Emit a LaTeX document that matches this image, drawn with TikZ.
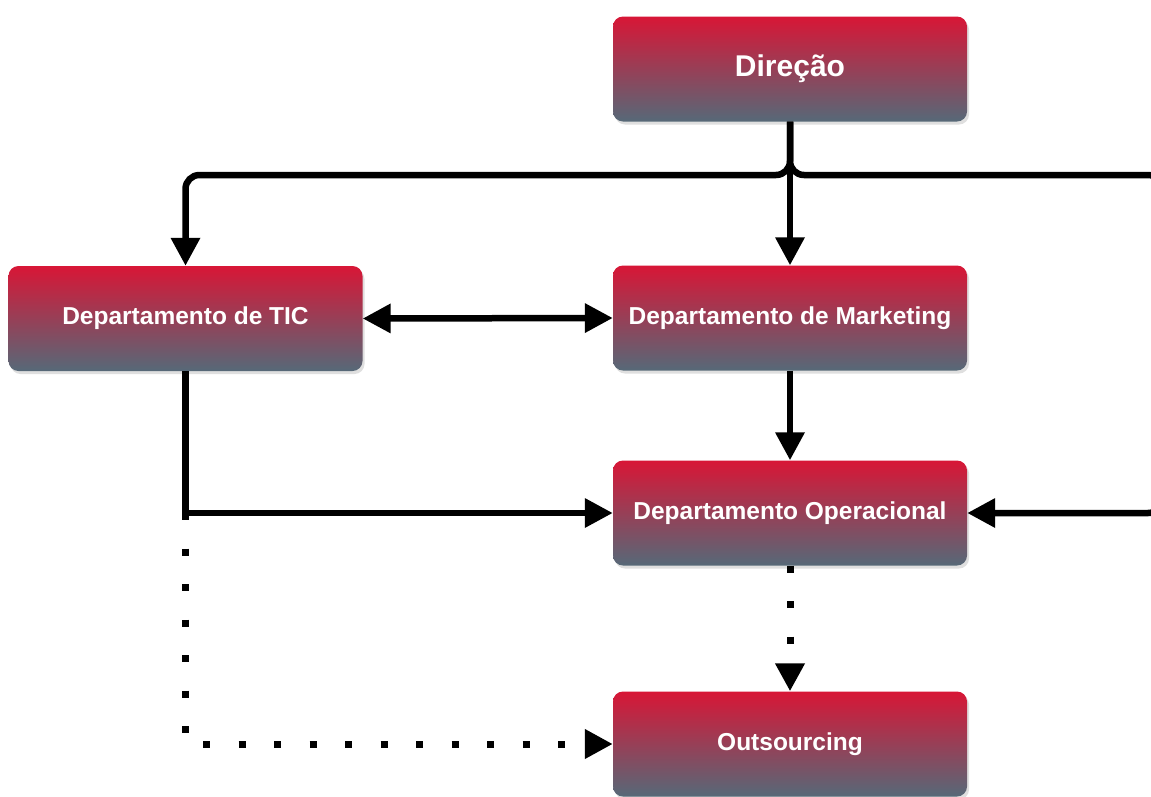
\documentclass[tikz,border=0pt]{standalone}
\usepackage{fontspec}
\setmainfont{Liberation Sans}
\usetikzlibrary{arrows.meta,shadows}
\definecolor{boxtop}{RGB}{216,22,54}
\definecolor{boxmid}{RGB}{156,52,82}
\definecolor{boxbot}{RGB}{86,105,120}
\begin{document}
\begin{tikzpicture}[x=1pt,y=-1pt,
  unit/.style={rectangle, rounded corners=10pt, minimum width=354pt,
    minimum height=105pt, inner sep=0pt, top color=boxtop,
    middle color=boxmid, bottom color=boxbot, text=white,
    font=\fontsize{24.5}{28}\selectfont\bfseries,
    drop shadow={shadow xshift=2pt, shadow yshift=-3pt, opacity=0.25}},
  tip/.tip={Triangle[length=28pt,width=28pt]},
  link/.style={line width=6.5pt, -tip},
  dotlink/.style={line width=7pt, line cap=butt, dash pattern=on 7pt off 28.5pt, -tip}]

% page and clipping area
\path[use as bounding box, clip] (0,0) rectangle (1151,796);
\fill[white] (0,0) rectangle (1151,796);

% organisation units
\node[unit, font=\fontsize{30}{34}\selectfont\bfseries] (dir) at (790,69) {Direção};
\node[unit] (tic) at (185.5,318.5) {Departamento de TIC};
\node[unit] (mkt) at (790,318) {Departamento de Marketing};
\node[unit] (ops) at (790,513) {Departamento Operacional};
\node[unit] (out) at (790,744) {Outsourcing};

% branching points of the top distribution line
\coordinate (jn) at (790,175);
\coordinate (rt) at (1162,175);

% reporting lines
\draw[link, rounded corners=14pt] (dir.south) -- (jn) -| (tic.north);
\draw[link, rounded corners=14pt] (dir.south) -- (jn) -- (rt) |- (ops.east);
\draw[link] (dir.south) -- (mkt.north);
\draw[line width=6.5pt, tip-tip] (tic.east) -- (mkt.west);
\draw[link] (mkt.south) -- (ops.north);
\draw[link] (tic.south) |- (ops.west);

% outsourced relations
\draw[dotlink] (tic.south) |- (out.west);
\draw[dotlink] (ops.south) -- (out.north);
\end{tikzpicture}
\end{document}
